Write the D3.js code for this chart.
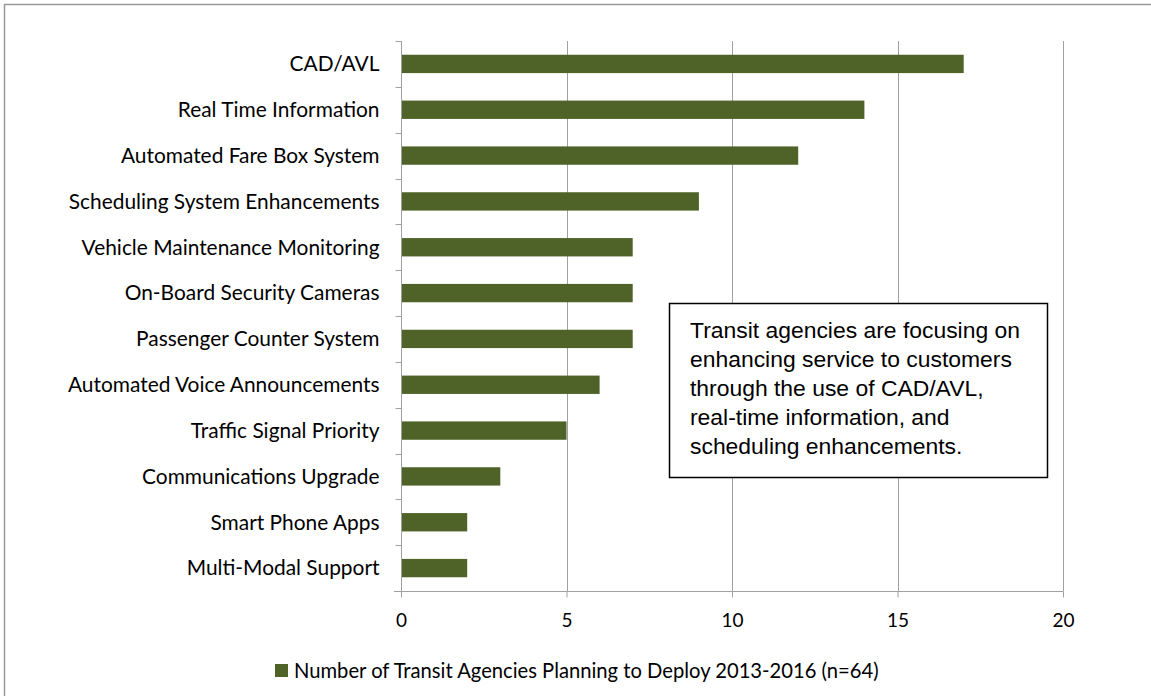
<!DOCTYPE html>
<html>
<head>
<meta charset="utf-8">
<script src="https://cdn.jsdelivr.net/npm/d3@7"></script>
<style>
  body { margin: 0; background: #fff; }
  text { font-family: Lato, "Open Sans", sans-serif; }
</style>
</head>
<body>
<div id="chart"></div>
<script>
var categories = [
  "CAD/AVL",
  "Real Time Information",
  "Automated Fare Box System ",
  "Scheduling System Enhancements",
  "Vehicle Maintenance Monitoring",
  "On-Board Security Cameras",
  "Passenger Counter System",
  "Automated Voice Announcements",
  "Traffic Signal Priority",
  "Communications Upgrade",
  "Smart Phone Apps",
  "Multi-Modal Support"
];
var agencies = [17, 14, 12, 9, 7, 7, 7, 6, 5, 3, 2, 2];
var xTicks = [0, 5, 10, 15, 20];
var seriesName = "Number of Transit Agencies Planning to Deploy 2013-2016 (n=64)";
var note = [
  "Transit agencies are focusing on",
  "enhancing service to customers",
  "through the use of CAD/AVL,",
  "real-time information, and",
  "scheduling enhancements."
];

var W = 1151, H = 696;
var margin = {top: 41, right: 88, bottom: 105, left: 401};
var width = W - margin.left - margin.right,
    height = H - margin.top - margin.bottom;
var barColor = "#4f6228";
var axisColor = "#a0a0a0";

var svg = d3.select("#chart")
  .append("svg")
    .attr("width", W)
    .attr("height", H);

// outer frame (only top and left edges show in the picture)
svg.append("rect")
  .attr("x", 4.5).attr("y", 4.5)
  .attr("width", W + 10).attr("height", H + 10)
  .attr("fill", "none")
  .attr("stroke", "#9a9a9a")
  .attr("stroke-width", 1.5);

var graph = svg.append("g")
  .attr("transform", "translate(" + margin.left + "," + margin.top + ")");

var x = d3.scaleLinear()
  .domain([0, 20])
  .range([0, width]);

var y = d3.scaleBand()
  .domain(categories)
  .range([0, height])
  .paddingInner(0.6)
  .paddingOuter(0.3);

// gridlines
graph.append("g")
  .selectAll("line")
  .data(xTicks.slice(1))
  .join("line")
    .attr("x1", function(d) { return Math.round(x(d)) + 0.5; })
    .attr("x2", function(d) { return Math.round(x(d)) + 0.5; })
    .attr("y1", 0)
    .attr("y2", height)
    .attr("stroke", axisColor)
    .attr("stroke-width", 1);

// bars
graph.append("g")
  .selectAll("rect")
  .data(agencies)
  .join("rect")
    .attr("x", x(0))
    .attr("y", function(d, i) { return y(categories[i]); })
    .attr("width", function(d) { return x(d) - x(0); })
    .attr("height", y.bandwidth())
    .attr("fill", barColor);

// x axis
var xAxis = graph.append("g")
  .attr("transform", "translate(0," + (height + 0.5) + ")")
  .call(d3.axisBottom(x).tickValues(xTicks).tickSize(6).tickPadding(16).tickSizeOuter(0));
xAxis.select(".domain").attr("stroke", axisColor).attr("d", "M-7,0H" + (width + 0.5));
xAxis.selectAll(".tick line").attr("stroke", axisColor);
xAxis.selectAll("text").attr("font-size", 19).attr("fill", "#000")
  .style("font-family", "Lato, sans-serif");

// y axis: ticks at band boundaries
var bounds = d3.range(categories.length + 1).map(function(i) { return i * height / categories.length; });
var yAxis = graph.append("g").attr("transform", "translate(0.5,0)");
yAxis.append("line")
  .attr("x1", 0).attr("x2", 0)
  .attr("y1", 0).attr("y2", height)
  .attr("stroke", axisColor);
yAxis.selectAll(".tk")
  .data(bounds)
  .join("line")
    .attr("class", "tk")
    .attr("x1", -6).attr("x2", 0)
    .attr("y1", function(d) { return Math.round(d) + 0.5; })
    .attr("y2", function(d) { return Math.round(d) + 0.5; })
    .attr("stroke", axisColor);
yAxis.selectAll(".lbl")
  .data(categories)
  .join("text")
    .attr("class", "lbl")
    .attr("x", -22)
    .attr("y", function(d) { return y(d) + y.bandwidth() / 2; })
    .attr("dy", "0.35em")
    .attr("text-anchor", "end")
    .attr("font-size", 20.9)
    .attr("fill", "#000")
    .text(function(d) { return d; });

// annotation box
var box = svg.append("g").attr("transform", "translate(669,303)");
box.append("rect")
  .attr("x", 0.5).attr("y", 0.5)
  .attr("width", 378).attr("height", 174)
  .attr("fill", "#fff")
  .attr("stroke", "#000")
  .attr("stroke-width", 1.5);
box.selectAll("text")
  .data(note)
  .join("text")
    .attr("x", 21)
    .attr("y", function(d, i) { return 27 + i * 29; })
    .attr("dy", "0.35em")
    .attr("font-size", 22.9)
    .style("font-family", "'Liberation Sans', Arial, sans-serif")
    .attr("fill", "#000")
    .text(function(d) { return d; });

// legend
var legend = svg.append("g").attr("transform", "translate(275,664)");
legend.append("rect")
  .attr("width", 13).attr("height", 13)
  .attr("fill", barColor);
legend.append("text")
  .attr("x", 19).attr("y", 6.5)
  .attr("dy", "0.35em")
  .attr("font-size", 20.2)
  .attr("fill", "#000")
  .text(seriesName);
</script>
</body>
</html>
